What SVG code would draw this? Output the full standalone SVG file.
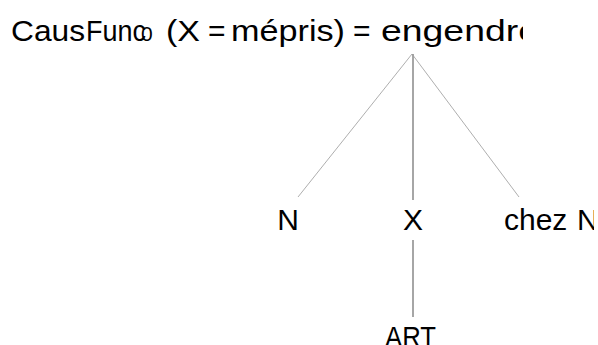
<svg xmlns="http://www.w3.org/2000/svg" width="598" height="345" viewBox="0 0 598 345">
<style>
text{font-family:"Liberation Sans",Arial,sans-serif;font-size:30px;fill:#000}
.diag{stroke:#999;stroke-width:0.8;fill:none}
.vert{stroke:#808080;stroke-width:1.4;fill:none}
</style>
<defs>
<clipPath id="topclip"><rect x="0" y="0" width="523" height="60"/></clipPath>
<clipPath id="rightclip"><rect x="0" y="180" width="594" height="70"/></clipPath>
</defs>
<g id="root"><text y="41" clip-path="url(#topclip)"><tspan x="11" textLength="74" lengthAdjust="spacingAndGlyphs">Caus</tspan><tspan x="86" textLength="60" lengthAdjust="spacingAndGlyphs">Func</tspan><tspan x="141" font-size="21">0</tspan><tspan x="166" textLength="34" lengthAdjust="spacingAndGlyphs">(X</tspan><tspan x="208">=</tspan><tspan x="231" textLength="114" lengthAdjust="spacingAndGlyphs">mépris)</tspan><tspan x="353">=</tspan><tspan x="381" textLength="158" lengthAdjust="spacingAndGlyphs">engendre</tspan></text></g>
<g id="connectors">
<line class="diag" x1="412" y1="54" x2="298" y2="197"/>
<line class="vert" x1="413" y1="54" x2="413" y2="200"/>
<line class="diag" x1="412" y1="54" x2="519" y2="197"/>
<line class="vert" x1="413" y1="240" x2="413" y2="317"/>
</g>
<g id="n-N"><text x="288" y="230" text-anchor="middle">N</text></g>
<g id="n-X"><text x="413" y="230" text-anchor="middle">X</text></g>
<g id="n-chez"><text y="230" clip-path="url(#rightclip)"><tspan x="504">chez</tspan><tspan x="577">N</tspan></text></g>
<g id="n-ART"><text x="385" y="347" textLength="51" lengthAdjust="spacingAndGlyphs">ART</text></g>
</svg>
